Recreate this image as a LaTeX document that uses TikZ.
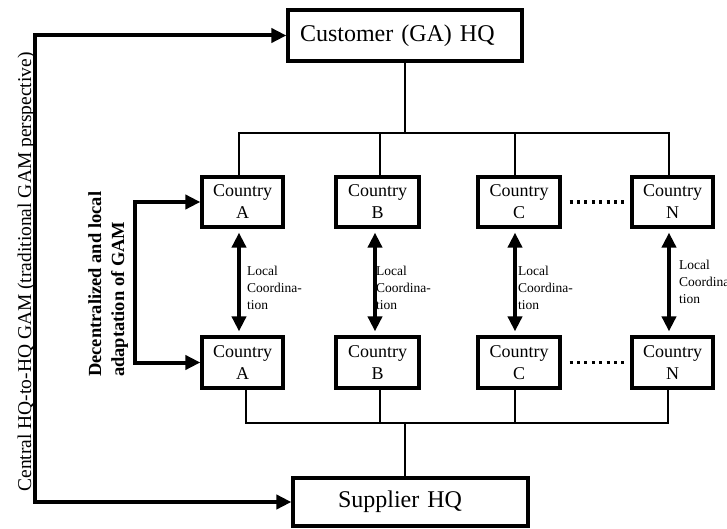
\documentclass[tikz,border=0pt]{standalone}
\usepackage{fontspec}
\setmainfont{Liberation Serif}
\usetikzlibrary{arrows.meta,calc}
\begin{document}
\begin{tikzpicture}[x=1pt,y=-1pt,
  box/.style={draw, line width=3.2pt, inner sep=0pt},
  hqbox/.style={box, minimum height=51pt, align=left, font=\fontsize{24}{28}\selectfont},
  cbox/.style={box, minimum width=82pt, minimum height=50pt, align=center, font=\fontsize{18}{22}\selectfont},
  conn/.style={line width=2.9pt},
  dtip/.style={{Triangle[length=15pt,width=14pt]}-{Triangle[length=15pt,width=14pt]}},
  flow/.style={line width=4pt, line join=miter},
  lbl/.style={anchor=west, align=left, inner sep=0pt, font=\fontsize{13.5}{17}\selectfont},
  dotline/.style={line width=3.2pt, dash pattern=on 3pt off 4.4pt}
]
\useasboundingbox (0,0) rectangle (727,529);
\fill[white] (0,0) rectangle (727,529);

% HQ boxes
\node[hqbox, inner xsep=12pt, text width=210pt] (cust) at (405,35.5) {Customer (GA) HQ};
\node[hqbox, minimum height=48pt, inner xsep=45pt, text width=145pt] (sup) at (410.5,502) {Supplier HQ};

% country boxes, top row
\node[cbox, minimum width=81pt] (tA) at (242.5,202) {Country\\A};
\node[cbox, minimum width=83pt] (tB) at (377.5,202) {Country\\B};
\node[cbox] (tC) at (519,202) {Country\\C};
\node[cbox, minimum width=81pt] (tN) at (672.5,202) {Country\\N};
% bottom row
\node[cbox, minimum width=81pt, minimum height=51pt] (bA) at (242.5,362.5) {Country\\A};
\node[cbox, minimum width=83pt, minimum height=51pt] (bB) at (377.5,362.5) {Country\\B};
\node[cbox, minimum height=51pt] (bC) at (519,362.5) {Country\\C};
\node[cbox, minimum width=81pt, minimum height=51pt] (bN) at (672.5,362.5) {Country\\N};

% buses
\coordinate (tbus) at (405,133);
\coordinate (bbus) at (405,423);
\draw[conn] (cust.south) -- (cust.south |- tbus);
\draw[conn] ([xshift=-3.5pt]tA.north) |- (tbus) -| ([xshift=-3.5pt]tN.north);
\draw[conn] ([xshift=2.5pt]tB.north) -- ([xshift=2.5pt]tB.north |- tbus);
\draw[conn] ([xshift=-4pt]tC.north) -- ([xshift=-4pt]tC.north |- tbus);

\draw[conn] ([xshift=3.5pt]bA.south) |- (bbus) -| ([xshift=-4.5pt]bN.south);
\draw[conn] ([xshift=2.5pt]bB.south) -- ([xshift=2.5pt]bB.south |- bbus);
\draw[conn] ([xshift=-4pt]bC.south) -- ([xshift=-4pt]bC.south |- bbus);
\draw[conn] (bbus) -- (bbus |- sup.north);

% local coordination arrows
\draw[flow, dtip, shorten <=4pt, shorten >=4pt] ([xshift=-3.5pt]tA.south) -- ([xshift=-3.5pt]bA.north);
\draw[flow, dtip, shorten <=4pt, shorten >=4pt] ([xshift=-2.5pt]tB.south) -- ([xshift=-2.5pt]bB.north);
\draw[flow, dtip, shorten <=4pt, shorten >=4pt] ([xshift=-4pt]tC.south) -- ([xshift=-4pt]bC.north);
\draw[flow, dtip, shorten <=4pt, shorten >=4pt] ([xshift=-3.5pt]tN.south) -- ([xshift=-3.5pt]bN.north);

\node[lbl] (lA) at (247,288) {Local\\Coordina-\\tion};
\node[lbl] (lB) at (376,288) {Local\\Coordina-\\tion};
\node[lbl] (lC) at (518,288) {Local\\Coordina-\\tion};
\node[lbl] (lN) at (679,282) {Local\\Coordina-\\tion};

% dots
\draw[dotline] ([xshift=8pt]tC.east) -- ([xshift=-4pt]tN.west);
\draw[dotline] ([xshift=8pt]bC.east) -- ([xshift=-4pt]bN.west);

% central loop
\coordinate (lx) at (35,270);
\draw[flow, dtip] (cust.west) -| (lx) |- (sup.west);
\node[rotate=90, anchor=base, inner sep=0pt, font=\fontsize{19.5}{23}\selectfont] (cen) at (31,272) {Central HQ-to-HQ GAM (traditional GAM perspective)};

% decentralized loop
\coordinate (ix) at (135,280);
\draw[flow, dtip] (tA.west) -| (ix) |- (bA.west);
\node[rotate=90, anchor=north west, inner sep=0pt, align=left, font=\bfseries\fontsize{18.5}{23}\selectfont] (dec) at (88,377) {Decentralized and local\\adaptation of GAM};
\end{tikzpicture}
\end{document}
